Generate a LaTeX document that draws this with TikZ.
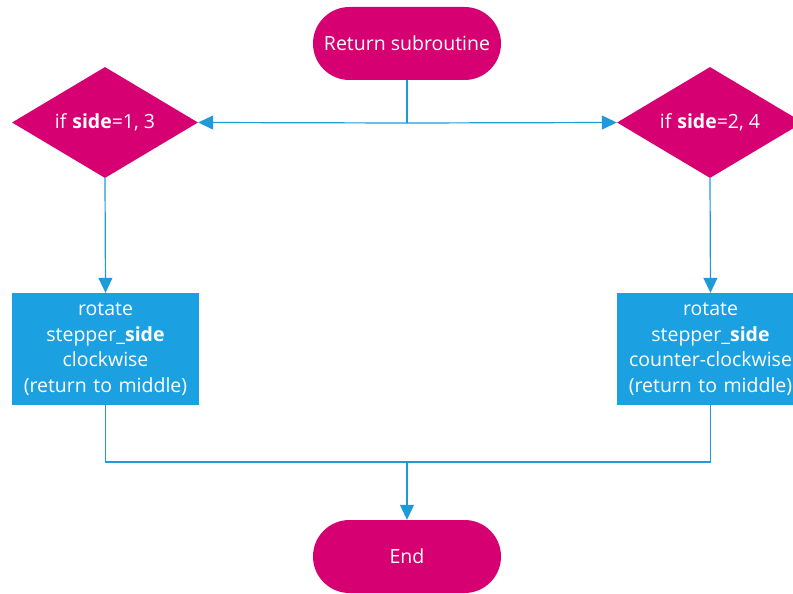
\documentclass[tikz,border=0pt]{standalone}
\usepackage{fontspec}
\setmainfont{Open Sans}
\usetikzlibrary{shapes.geometric,shapes.misc,arrows.meta}
\definecolor{mag}{RGB}{214,0,114}
\definecolor{boxblue}{RGB}{27,161,226}
\definecolor{lineblue}{RGB}{30,155,215}
\begin{document}
\begin{tikzpicture}[x=1pt,y=-1pt,
  term/.style={rounded rectangle,fill=mag,text=white,minimum width=188pt,minimum height=73pt,inner sep=0pt,font=\fontsize{19.5}{24}\selectfont},
  decision/.style={diamond,fill=mag,text=white,minimum width=186pt,minimum height=111pt,inner sep=0pt,aspect=1.68,font=\fontsize{19.5}{24}\selectfont},
  action/.style={rectangle,fill=boxblue,text=white,text width=187pt,minimum width=187pt,minimum height=112pt,inner sep=0pt,align=center,font=\fontsize{19.5}{25.5}\selectfont},
  conn/.style={draw=lineblue,line width=1.2pt},
  arr/.style={conn,-{Triangle[length=15pt,width=14pt]}}]
\useasboundingbox (0,0) rectangle (793,594);
\clip (0,0) rectangle (793,594);
\node[term] (ret) at (407,43.5) {Return subroutine};
\node[decision] (d1) at (105,122.5) {if \textbf{side}=1, 3};
\node[decision] (d2) at (710,122.5) {if \textbf{side}=2, 4};
\node[action] (a1) at (105.5,349) {rotate\\stepper\_\textbf{side}\\clockwise\\(return to middle)};
\node[action] (a2) at (710.5,349) {rotate\\stepper\_\textbf{side}\\counter-clockwise\\(return to middle)};
\node[term] (end) at (407,556.5) {End};
\coordinate (j1) at (407,123);
\coordinate (j2) at (407,462);
\draw[conn] (ret.south) -- (j1);
\draw[arr] (j1) -- (d1.east);
\draw[arr] (j1) -- (d2.west);
\draw[arr] (d1.south) -- (a1.north);
\draw[arr] (d2.south) -- (a2.north);
\draw[conn] (a1.south) |- (j2);
\draw[conn] (a2.south) |- (j2);
\draw[arr] (j2) -- (end.north);
\end{tikzpicture}
\end{document}
